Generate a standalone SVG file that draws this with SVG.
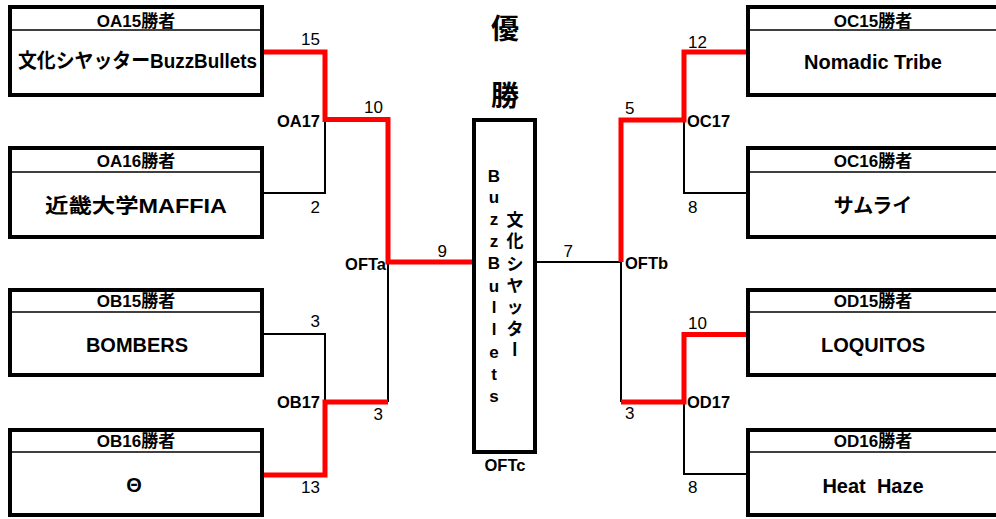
<svg xmlns="http://www.w3.org/2000/svg" width="996" height="519" viewBox="0 0 996 519">
<style>
.box{fill:#fff;stroke:#000;stroke-width:4}
.div{stroke:#000;stroke-width:1.6}
.hd{font-family:"Liberation Sans","Noto Sans CJK JP",sans-serif;font-weight:bold;font-size:17px;text-anchor:middle;fill:#000}
.nm{font-family:"Liberation Sans","Noto Sans CJK JP",sans-serif;font-weight:bold;font-size:20px;text-anchor:middle;fill:#000;white-space:pre}
.sc{font-family:"Liberation Sans",sans-serif;font-size:17px;fill:#000}
.lb{font-family:"Liberation Sans",sans-serif;font-weight:bold;font-size:16.5px;fill:#000}
.win{fill:none;stroke:#f00;stroke-width:5}
.los{fill:none;stroke:#000;stroke-width:2}
.big{font-family:"Noto Sans CJK JP",sans-serif;font-weight:bold;font-size:28px;text-anchor:middle;fill:#000}
.vl{font-family:"Liberation Sans",sans-serif;font-weight:bold;font-size:17px;text-anchor:middle;fill:#000}
.vj{font-family:"Noto Sans CJK JP",sans-serif;font-weight:bold;font-size:17px;text-anchor:middle;fill:#000}
</style>
<g id="connectors">
<path class="los" d="M264,193 H325 V119"/>
<path class="los" d="M264,334 H325 V402"/>
<path class="los" d="M388,402 V262"/>
<path class="los" d="M537,262 H621 V402"/>
<path class="los" d="M684,120 V193 H746"/>
<path class="los" d="M684,402 V474 H746"/>
<path class="win" d="M262,52 H325 V119.5 H388 V262 H474"/>
<path class="win" d="M262,475 H325 V402 H388"/>
<path class="win" d="M621,262 V120 H684 V52 H748"/>
<path class="win" d="M621,402 H684 V334.5 H748"/>
</g>
<g id="scores">
<text class="sc" x="320" y="45" text-anchor="end">15</text>
<text class="sc" x="383" y="113" text-anchor="end">10</text>
<text class="sc" x="320" y="213" text-anchor="end">2</text>
<text class="sc" x="320" y="327" text-anchor="end">3</text>
<text class="sc" x="383" y="420" text-anchor="end">3</text>
<text class="sc" x="320" y="493" text-anchor="end">13</text>
<text class="sc" x="447" y="257" text-anchor="end">9</text>
<text class="sc" x="573" y="257" text-anchor="end">7</text>
<text class="sc" x="625" y="114">5</text>
<text class="sc" x="625" y="419">3</text>
<text class="sc" x="688" y="48">12</text>
<text class="sc" x="688" y="213">8</text>
<text class="sc" x="688" y="329">10</text>
<text class="sc" x="688" y="493">8</text>
<text class="lb" x="320" y="127" text-anchor="end">OA17</text>
<text class="lb" x="320" y="408" text-anchor="end">OB17</text>
<text class="lb" x="386" y="270" text-anchor="end">OFTa</text>
<text class="lb" x="625" y="269">OFTb</text>
<text class="lb" x="505" y="471" text-anchor="middle">OFTc</text>
<text class="lb" x="687" y="127">OC17</text>
<text class="lb" x="687" y="408">OD17</text>
</g>
<g id="OA15">
<rect class="box" x="10" y="7" width="252" height="88"/>
<line class="div" x1="10" y1="30" x2="262" y2="30"/>
<text class="hd" x="136" y="27">OA15勝者</text>
<text class="nm" x="137.5" y="68" textLength="239" lengthAdjust="spacingAndGlyphs">文化シヤッターBuzzBullets</text>
</g>
<g id="OA16">
<rect class="box" x="10" y="148" width="252" height="89"/>
<line class="div" x1="10" y1="172" x2="262" y2="172"/>
<text class="hd" x="136" y="167">OA16勝者</text>
<text class="nm" x="136" y="213" textLength="182" lengthAdjust="spacingAndGlyphs">近畿大学MAFFIA</text>
</g>
<g id="OB15">
<rect class="box" x="10" y="290" width="252" height="85"/>
<line class="div" x1="10" y1="312" x2="262" y2="312"/>
<text class="hd" x="136" y="307">OB15勝者</text>
<text class="nm" x="137" y="352">BOMBERS</text>
</g>
<g id="OB16">
<rect class="box" x="10" y="430" width="252" height="85"/>
<line class="div" x1="10" y1="452" x2="262" y2="452"/>
<text class="hd" x="136" y="447">OB16勝者</text>
<text class="nm" x="134" y="492">Θ</text>
</g>
<g id="OC15">
<rect class="box" x="748" y="7" width="252" height="88"/>
<line class="div" x1="748" y1="30" x2="1000" y2="30"/>
<text class="hd" x="873" y="27">OC15勝者</text>
<text class="nm" x="873" y="69">Nomadic Tribe</text>
</g>
<g id="OC16">
<rect class="box" x="748" y="148" width="252" height="89"/>
<line class="div" x1="748" y1="172" x2="1000" y2="172"/>
<text class="hd" x="873" y="167">OC16勝者</text>
<text class="nm" x="873" y="213">サムライ</text>
</g>
<g id="OD15">
<rect class="box" x="748" y="290" width="252" height="85"/>
<line class="div" x1="748" y1="312" x2="1000" y2="312"/>
<text class="hd" x="873" y="307">OD15勝者</text>
<text class="nm" x="873" y="352">LOQUITOS</text>
</g>
<g id="OD16">
<rect class="box" x="748" y="430" width="252" height="85"/>
<line class="div" x1="748" y1="452" x2="1000" y2="452"/>
<text class="hd" x="873" y="447">OD16勝者</text>
<text class="nm" x="873" y="493">Heat  Haze</text>
</g>
<g id="OFTc">
<text class="big" x="505" y="39">優</text>
<text class="big" x="505" y="106">勝</text>
<rect class="box" x="474" y="120" width="61" height="332"/>
<text class="vl" x="494 494 494 494 494 494 494 494 494 494 494" y="182 203 225 247 269 292 313 335 358 380 402">BuzzBullets</text>
<text class="vj" x="515 515 515 515 515 515" y="226 247 270 292 313 335">文化シヤッタ</text>
<text class="vj" x="515" y="349" dominant-baseline="central" transform="rotate(90 515 349)">ー</text>
</g>
</svg>
